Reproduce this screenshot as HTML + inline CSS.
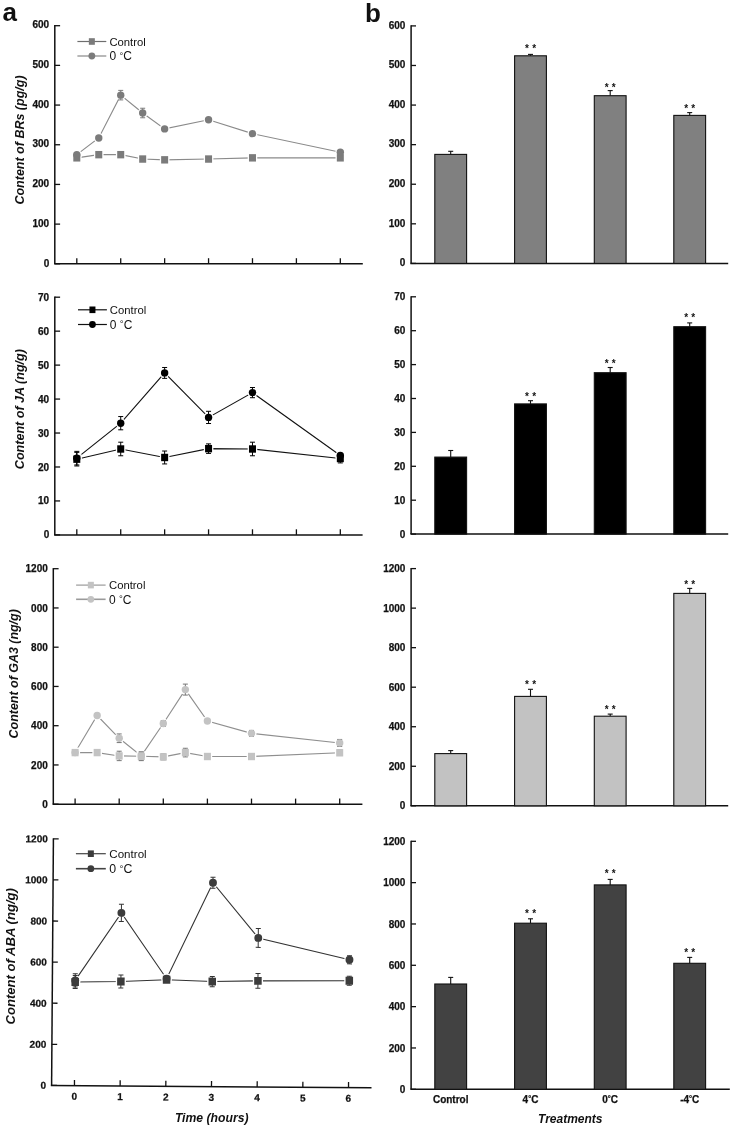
<!DOCTYPE html><html><head><meta charset="utf-8"><title>Figure</title>
<style>html,body{margin:0;padding:0;background:#fff;width:734px;height:1130px;overflow:hidden;}svg{display:block;will-change:transform;}text{font-family:"Liberation Sans",sans-serif;fill:#111;}.tl{stroke:#111;stroke-width:0.25px;}</style></head><body>
<svg width="734" height="1130" viewBox="0 0 734 1130">
<rect width="734" height="1130" fill="#fff"/>
<text x="2.5" y="20.6" font-size="26" font-weight="bold">a</text>
<text x="365" y="22.3" font-size="26" font-weight="bold">b</text>
<line x1="54.8" y1="25.1" x2="54.8" y2="263.8" stroke="#111" stroke-width="1.5"/>
<line x1="54.8" y1="263.8" x2="60.1" y2="263.8" stroke="#111" stroke-width="1.3"/>
<text x="49.2" y="266.5" font-size="10" font-weight="bold" text-anchor="end" class="tl">0</text>
<line x1="54.8" y1="224.12" x2="60.1" y2="224.12" stroke="#111" stroke-width="1.3"/>
<text x="49.2" y="226.82" font-size="10" font-weight="bold" text-anchor="end" class="tl">100</text>
<line x1="54.8" y1="184.43" x2="60.1" y2="184.43" stroke="#111" stroke-width="1.3"/>
<text x="49.2" y="187.13" font-size="10" font-weight="bold" text-anchor="end" class="tl">200</text>
<line x1="54.8" y1="144.75" x2="60.1" y2="144.75" stroke="#111" stroke-width="1.3"/>
<text x="49.2" y="147.45" font-size="10" font-weight="bold" text-anchor="end" class="tl">300</text>
<line x1="54.8" y1="105.07" x2="60.1" y2="105.07" stroke="#111" stroke-width="1.3"/>
<text x="49.2" y="107.77" font-size="10" font-weight="bold" text-anchor="end" class="tl">400</text>
<line x1="54.8" y1="65.38" x2="60.1" y2="65.38" stroke="#111" stroke-width="1.3"/>
<text x="49.2" y="68.08" font-size="10" font-weight="bold" text-anchor="end" class="tl">500</text>
<line x1="54.8" y1="25.7" x2="60.1" y2="25.7" stroke="#111" stroke-width="1.3"/>
<text x="49.2" y="28.4" font-size="10" font-weight="bold" text-anchor="end" class="tl">600</text>
<line x1="54.05" y1="263.8" x2="362.8" y2="263.8" stroke="#111" stroke-width="1.5"/>
<line x1="76.8" y1="263.8" x2="76.8" y2="258.2" stroke="#111" stroke-width="1.3"/>
<line x1="120.72" y1="263.8" x2="120.72" y2="258.2" stroke="#111" stroke-width="1.3"/>
<line x1="164.64" y1="263.8" x2="164.64" y2="258.2" stroke="#111" stroke-width="1.3"/>
<line x1="208.56" y1="263.8" x2="208.56" y2="258.2" stroke="#111" stroke-width="1.3"/>
<line x1="252.48" y1="263.8" x2="252.48" y2="258.2" stroke="#111" stroke-width="1.3"/>
<line x1="296.4" y1="263.8" x2="296.4" y2="258.2" stroke="#111" stroke-width="1.3"/>
<line x1="340.32" y1="263.8" x2="340.32" y2="258.2" stroke="#111" stroke-width="1.3"/>
<text transform="translate(24.2,140) rotate(-90)" x="0" y="0" font-size="12.5" font-weight="bold" font-style="italic" text-anchor="middle">Content of BRs (pg/g)</text>
<line x1="77.4" y1="41.5" x2="106.3" y2="41.5" stroke="#6e6e6e" stroke-width="1.2"/>
<rect x="88.85" y="38.2" width="6" height="6.6" fill="#7b7b7b"/>
<line x1="77.4" y1="56" x2="106.3" y2="56" stroke="#a6a6a6" stroke-width="1.6"/>
<circle cx="91.85" cy="56" r="3.4" fill="#7b7b7b"/>
<text x="109.4" y="45.68" font-size="11.3">Control</text>
<text x="109.4" y="60.25" font-size="11.98">0 <tspan font-size="9.58" dy="-1.3">&#176;</tspan><tspan dy="1.3">C</tspan></text>
<path d="M76.8,157.85 L98.76,154.67 L120.72,154.67 L142.68,159.04 L164.64,159.83 L208.56,159.04 L252.48,157.85 L340.32,157.85" fill="none" stroke="#8a8a8a" stroke-width="1.1"/>
<path d="M76.8,154.67 L98.76,138 L120.72,95.15 L142.68,113 L164.64,128.88 L208.56,119.75 L252.48,133.64 L340.32,152.29" fill="none" stroke="#8a8a8a" stroke-width="1.1"/>
<rect x="72" y="152.85" width="9.6" height="10" fill="#fff"/>
<rect x="93.96" y="149.67" width="9.6" height="10" fill="#fff"/>
<rect x="115.92" y="149.67" width="9.6" height="10" fill="#fff"/>
<rect x="137.88" y="154.04" width="9.6" height="10" fill="#fff"/>
<rect x="159.84" y="154.83" width="9.6" height="10" fill="#fff"/>
<rect x="203.76" y="154.04" width="9.6" height="10" fill="#fff"/>
<rect x="247.68" y="152.85" width="9.6" height="10" fill="#fff"/>
<rect x="335.52" y="152.85" width="9.6" height="10" fill="#fff"/>
<circle cx="76.8" cy="154.67" r="5" fill="#fff"/>
<circle cx="98.76" cy="138" r="5" fill="#fff"/>
<circle cx="120.72" cy="95.15" r="5" fill="#fff"/>
<circle cx="142.68" cy="113" r="5" fill="#fff"/>
<circle cx="164.64" cy="128.88" r="5" fill="#fff"/>
<circle cx="208.56" cy="119.75" r="5" fill="#fff"/>
<circle cx="252.48" cy="133.64" r="5" fill="#fff"/>
<circle cx="340.32" cy="152.29" r="5" fill="#fff"/>
<line x1="120.72" y1="90.38" x2="120.72" y2="99.91" stroke="#7b7b7b" stroke-width="1"/>
<line x1="118.22" y1="90.38" x2="123.22" y2="90.38" stroke="#7b7b7b" stroke-width="1"/>
<line x1="118.22" y1="99.91" x2="123.22" y2="99.91" stroke="#7b7b7b" stroke-width="1"/>
<line x1="142.68" y1="108.24" x2="142.68" y2="117.77" stroke="#7b7b7b" stroke-width="1"/>
<line x1="140.18" y1="108.24" x2="145.18" y2="108.24" stroke="#7b7b7b" stroke-width="1"/>
<line x1="140.18" y1="117.77" x2="145.18" y2="117.77" stroke="#7b7b7b" stroke-width="1"/>
<rect x="73.3" y="154.15" width="7" height="7.4" fill="#7b7b7b"/>
<rect x="95.26" y="150.97" width="7" height="7.4" fill="#7b7b7b"/>
<rect x="117.22" y="150.97" width="7" height="7.4" fill="#7b7b7b"/>
<rect x="139.18" y="155.34" width="7" height="7.4" fill="#7b7b7b"/>
<rect x="161.14" y="156.13" width="7" height="7.4" fill="#7b7b7b"/>
<rect x="205.06" y="155.34" width="7" height="7.4" fill="#7b7b7b"/>
<rect x="248.98" y="154.15" width="7" height="7.4" fill="#7b7b7b"/>
<rect x="336.82" y="154.15" width="7" height="7.4" fill="#7b7b7b"/>
<circle cx="76.8" cy="154.67" r="3.7" fill="#7b7b7b"/>
<circle cx="98.76" cy="138" r="3.7" fill="#7b7b7b"/>
<circle cx="120.72" cy="95.15" r="3.7" fill="#7b7b7b"/>
<circle cx="142.68" cy="113" r="3.7" fill="#7b7b7b"/>
<circle cx="164.64" cy="128.88" r="3.7" fill="#7b7b7b"/>
<circle cx="208.56" cy="119.75" r="3.7" fill="#7b7b7b"/>
<circle cx="252.48" cy="133.64" r="3.7" fill="#7b7b7b"/>
<circle cx="340.32" cy="152.29" r="3.7" fill="#7b7b7b"/>
<line x1="54.8" y1="296.6" x2="54.8" y2="534.9" stroke="#111" stroke-width="1.5"/>
<line x1="54.8" y1="534.9" x2="60.1" y2="534.9" stroke="#111" stroke-width="1.3"/>
<text x="49.2" y="538.45" font-size="10" font-weight="bold" text-anchor="end" class="tl">0</text>
<line x1="54.8" y1="500.94" x2="60.1" y2="500.94" stroke="#111" stroke-width="1.3"/>
<text x="49.2" y="504.49" font-size="10" font-weight="bold" text-anchor="end" class="tl">10</text>
<line x1="54.8" y1="466.99" x2="60.1" y2="466.99" stroke="#111" stroke-width="1.3"/>
<text x="49.2" y="470.54" font-size="10" font-weight="bold" text-anchor="end" class="tl">20</text>
<line x1="54.8" y1="433.03" x2="60.1" y2="433.03" stroke="#111" stroke-width="1.3"/>
<text x="49.2" y="436.58" font-size="10" font-weight="bold" text-anchor="end" class="tl">30</text>
<line x1="54.8" y1="399.07" x2="60.1" y2="399.07" stroke="#111" stroke-width="1.3"/>
<text x="49.2" y="402.62" font-size="10" font-weight="bold" text-anchor="end" class="tl">40</text>
<line x1="54.8" y1="365.11" x2="60.1" y2="365.11" stroke="#111" stroke-width="1.3"/>
<text x="49.2" y="368.66" font-size="10" font-weight="bold" text-anchor="end" class="tl">50</text>
<line x1="54.8" y1="331.16" x2="60.1" y2="331.16" stroke="#111" stroke-width="1.3"/>
<text x="49.2" y="334.71" font-size="10" font-weight="bold" text-anchor="end" class="tl">60</text>
<line x1="54.8" y1="297.2" x2="60.1" y2="297.2" stroke="#111" stroke-width="1.3"/>
<text x="49.2" y="300.75" font-size="10" font-weight="bold" text-anchor="end" class="tl">70</text>
<line x1="54.05" y1="534.9" x2="362.6" y2="534.9" stroke="#111" stroke-width="1.5"/>
<line x1="76.8" y1="534.9" x2="76.8" y2="529.3" stroke="#111" stroke-width="1.3"/>
<line x1="120.72" y1="534.9" x2="120.72" y2="529.3" stroke="#111" stroke-width="1.3"/>
<line x1="164.64" y1="534.9" x2="164.64" y2="529.3" stroke="#111" stroke-width="1.3"/>
<line x1="208.56" y1="534.9" x2="208.56" y2="529.3" stroke="#111" stroke-width="1.3"/>
<line x1="252.48" y1="534.9" x2="252.48" y2="529.3" stroke="#111" stroke-width="1.3"/>
<line x1="296.4" y1="534.9" x2="296.4" y2="529.3" stroke="#111" stroke-width="1.3"/>
<line x1="340.32" y1="534.9" x2="340.32" y2="529.3" stroke="#111" stroke-width="1.3"/>
<text transform="translate(23.8,409.1) rotate(-90)" x="0" y="0" font-size="12.55" font-weight="bold" font-style="italic" text-anchor="middle">Content of JA (ng/g)</text>
<line x1="78" y1="309.8" x2="106.9" y2="309.8" stroke="#111" stroke-width="1.2"/>
<rect x="89.45" y="306.5" width="6" height="6.6" fill="#000"/>
<line x1="78" y1="324.5" x2="106.9" y2="324.5" stroke="#111" stroke-width="1.2"/>
<circle cx="92.45" cy="324.5" r="3.4" fill="#000"/>
<text x="109.8" y="313.98" font-size="11.3">Control</text>
<text x="109.8" y="328.75" font-size="11.98">0 <tspan font-size="9.58" dy="-1.3">&#176;</tspan><tspan dy="1.3">C</tspan></text>
<path d="M76.8,459.18 L120.72,448.99 L164.64,457.48 L208.56,448.65 L252.48,448.99 L340.32,458.5" fill="none" stroke="#111" stroke-width="1.1"/>
<path d="M76.8,458.16 L120.72,423.18 L164.64,372.92 L208.56,417.41 L252.48,392.62 L340.32,455.44" fill="none" stroke="#111" stroke-width="1.1"/>
<rect x="72" y="454.18" width="9.6" height="10" fill="#fff"/>
<rect x="115.92" y="443.99" width="9.6" height="10" fill="#fff"/>
<rect x="159.84" y="452.48" width="9.6" height="10" fill="#fff"/>
<rect x="203.76" y="443.65" width="9.6" height="10" fill="#fff"/>
<rect x="247.68" y="443.99" width="9.6" height="10" fill="#fff"/>
<rect x="335.52" y="453.5" width="9.6" height="10" fill="#fff"/>
<circle cx="76.8" cy="458.16" r="5" fill="#fff"/>
<circle cx="120.72" cy="423.18" r="5" fill="#fff"/>
<circle cx="164.64" cy="372.92" r="5" fill="#fff"/>
<circle cx="208.56" cy="417.41" r="5" fill="#fff"/>
<circle cx="252.48" cy="392.62" r="5" fill="#fff"/>
<circle cx="340.32" cy="455.44" r="5" fill="#fff"/>
<line x1="76.8" y1="452.38" x2="76.8" y2="465.97" stroke="#000" stroke-width="1"/>
<line x1="74.3" y1="452.38" x2="79.3" y2="452.38" stroke="#000" stroke-width="1"/>
<line x1="74.3" y1="465.97" x2="79.3" y2="465.97" stroke="#000" stroke-width="1"/>
<line x1="120.72" y1="442.2" x2="120.72" y2="455.78" stroke="#000" stroke-width="1"/>
<line x1="118.22" y1="442.2" x2="123.22" y2="442.2" stroke="#000" stroke-width="1"/>
<line x1="118.22" y1="455.78" x2="123.22" y2="455.78" stroke="#000" stroke-width="1"/>
<line x1="164.64" y1="451.03" x2="164.64" y2="463.93" stroke="#000" stroke-width="1"/>
<line x1="162.14" y1="451.03" x2="167.14" y2="451.03" stroke="#000" stroke-width="1"/>
<line x1="162.14" y1="463.93" x2="167.14" y2="463.93" stroke="#000" stroke-width="1"/>
<line x1="208.56" y1="443.89" x2="208.56" y2="453.4" stroke="#000" stroke-width="1"/>
<line x1="206.06" y1="443.89" x2="211.06" y2="443.89" stroke="#000" stroke-width="1"/>
<line x1="206.06" y1="453.4" x2="211.06" y2="453.4" stroke="#000" stroke-width="1"/>
<line x1="252.48" y1="442.2" x2="252.48" y2="455.78" stroke="#000" stroke-width="1"/>
<line x1="249.98" y1="442.2" x2="254.98" y2="442.2" stroke="#000" stroke-width="1"/>
<line x1="249.98" y1="455.78" x2="254.98" y2="455.78" stroke="#000" stroke-width="1"/>
<line x1="340.32" y1="454.08" x2="340.32" y2="462.91" stroke="#000" stroke-width="1"/>
<line x1="337.82" y1="454.08" x2="342.82" y2="454.08" stroke="#000" stroke-width="1"/>
<line x1="337.82" y1="462.91" x2="342.82" y2="462.91" stroke="#000" stroke-width="1"/>
<line x1="76.8" y1="451.37" x2="76.8" y2="464.95" stroke="#000" stroke-width="1"/>
<line x1="74.3" y1="451.37" x2="79.3" y2="451.37" stroke="#000" stroke-width="1"/>
<line x1="74.3" y1="464.95" x2="79.3" y2="464.95" stroke="#000" stroke-width="1"/>
<line x1="120.72" y1="416.56" x2="120.72" y2="429.8" stroke="#000" stroke-width="1"/>
<line x1="118.22" y1="416.56" x2="123.22" y2="416.56" stroke="#000" stroke-width="1"/>
<line x1="118.22" y1="429.8" x2="123.22" y2="429.8" stroke="#000" stroke-width="1"/>
<line x1="164.64" y1="367.49" x2="164.64" y2="378.36" stroke="#000" stroke-width="1"/>
<line x1="162.14" y1="367.49" x2="167.14" y2="367.49" stroke="#000" stroke-width="1"/>
<line x1="162.14" y1="378.36" x2="167.14" y2="378.36" stroke="#000" stroke-width="1"/>
<line x1="208.56" y1="411.3" x2="208.56" y2="423.52" stroke="#000" stroke-width="1"/>
<line x1="206.06" y1="411.3" x2="211.06" y2="411.3" stroke="#000" stroke-width="1"/>
<line x1="206.06" y1="423.52" x2="211.06" y2="423.52" stroke="#000" stroke-width="1"/>
<line x1="252.48" y1="387.53" x2="252.48" y2="397.71" stroke="#000" stroke-width="1"/>
<line x1="249.98" y1="387.53" x2="254.98" y2="387.53" stroke="#000" stroke-width="1"/>
<line x1="249.98" y1="397.71" x2="254.98" y2="397.71" stroke="#000" stroke-width="1"/>
<line x1="340.32" y1="453.4" x2="340.32" y2="457.48" stroke="#000" stroke-width="1"/>
<line x1="337.82" y1="453.4" x2="342.82" y2="453.4" stroke="#000" stroke-width="1"/>
<line x1="337.82" y1="457.48" x2="342.82" y2="457.48" stroke="#000" stroke-width="1"/>
<rect x="73.3" y="455.48" width="7" height="7.4" fill="#000"/>
<rect x="117.22" y="445.29" width="7" height="7.4" fill="#000"/>
<rect x="161.14" y="453.78" width="7" height="7.4" fill="#000"/>
<rect x="205.06" y="444.95" width="7" height="7.4" fill="#000"/>
<rect x="248.98" y="445.29" width="7" height="7.4" fill="#000"/>
<rect x="336.82" y="454.8" width="7" height="7.4" fill="#000"/>
<circle cx="76.8" cy="458.16" r="3.7" fill="#000"/>
<circle cx="120.72" cy="423.18" r="3.7" fill="#000"/>
<circle cx="164.64" cy="372.92" r="3.7" fill="#000"/>
<circle cx="208.56" cy="417.41" r="3.7" fill="#000"/>
<circle cx="252.48" cy="392.62" r="3.7" fill="#000"/>
<circle cx="340.32" cy="455.44" r="3.7" fill="#000"/>
<line x1="53.3" y1="568.1" x2="53.3" y2="804.2" stroke="#111" stroke-width="1.5"/>
<line x1="53.3" y1="804.2" x2="58.6" y2="804.2" stroke="#111" stroke-width="1.3"/>
<text x="47.8" y="807.75" font-size="10" font-weight="bold" text-anchor="end" class="tl">0</text>
<line x1="53.3" y1="764.95" x2="58.6" y2="764.95" stroke="#111" stroke-width="1.3"/>
<text x="47.8" y="768.5" font-size="10" font-weight="bold" text-anchor="end" class="tl">200</text>
<line x1="53.3" y1="725.7" x2="58.6" y2="725.7" stroke="#111" stroke-width="1.3"/>
<text x="47.8" y="729.25" font-size="10" font-weight="bold" text-anchor="end" class="tl">400</text>
<line x1="53.3" y1="686.45" x2="58.6" y2="686.45" stroke="#111" stroke-width="1.3"/>
<text x="47.8" y="690" font-size="10" font-weight="bold" text-anchor="end" class="tl">600</text>
<line x1="53.3" y1="647.2" x2="58.6" y2="647.2" stroke="#111" stroke-width="1.3"/>
<text x="47.8" y="650.75" font-size="10" font-weight="bold" text-anchor="end" class="tl">800</text>
<line x1="53.3" y1="607.95" x2="58.6" y2="607.95" stroke="#111" stroke-width="1.3"/>
<text x="47.8" y="611.5" font-size="10" font-weight="bold" text-anchor="end" class="tl">000</text>
<line x1="53.3" y1="568.7" x2="58.6" y2="568.7" stroke="#111" stroke-width="1.3"/>
<text x="47.8" y="572.25" font-size="10" font-weight="bold" text-anchor="end" class="tl">1200</text>
<line x1="52.55" y1="804.2" x2="362.4" y2="804.2" stroke="#111" stroke-width="1.5"/>
<line x1="75.1" y1="804.2" x2="75.1" y2="798.6" stroke="#111" stroke-width="1.3"/>
<line x1="119.2" y1="804.2" x2="119.2" y2="798.6" stroke="#111" stroke-width="1.3"/>
<line x1="163.3" y1="804.2" x2="163.3" y2="798.6" stroke="#111" stroke-width="1.3"/>
<line x1="207.4" y1="804.2" x2="207.4" y2="798.6" stroke="#111" stroke-width="1.3"/>
<line x1="251.5" y1="804.2" x2="251.5" y2="798.6" stroke="#111" stroke-width="1.3"/>
<line x1="295.6" y1="804.2" x2="295.6" y2="798.6" stroke="#111" stroke-width="1.3"/>
<line x1="339.7" y1="804.2" x2="339.7" y2="798.6" stroke="#111" stroke-width="1.3"/>
<text transform="translate(18.4,673.8) rotate(-90)" x="0" y="0" font-size="12.45" font-weight="bold" font-style="italic" text-anchor="middle">Content of GA3 (ng/g)</text>
<line x1="76.1" y1="585.1" x2="105.6" y2="585.1" stroke="#9a9a9a" stroke-width="1.2"/>
<rect x="87.85" y="581.8" width="6" height="6.6" fill="#c3c3c3"/>
<line x1="76.1" y1="599.3" x2="105.6" y2="599.3" stroke="#9a9a9a" stroke-width="1.6"/>
<circle cx="90.85" cy="599.3" r="3.4" fill="#c3c3c3"/>
<text x="109" y="589.28" font-size="11.3">Control</text>
<text x="109" y="603.55" font-size="11.98">0 <tspan font-size="9.58" dy="-1.3">&#176;</tspan><tspan dy="1.3">C</tspan></text>
<path d="M75.1,752.59 L97.15,752.59 L119.2,755.92 L141.25,756.32 L163.3,756.9 L185.35,752.59 L207.4,756.51 L251.5,756.51 L339.7,752.78" fill="none" stroke="#8f8f8f" stroke-width="1.1"/>
<path d="M75.1,752.59 L97.15,715.5 L119.2,738.26 L141.25,755.92 L163.3,723.54 L185.35,689.59 L207.4,720.99 L251.5,733.35 L339.7,742.97" fill="none" stroke="#8f8f8f" stroke-width="1.1"/>
<rect x="70.3" y="747.59" width="9.6" height="10" fill="#fff"/>
<rect x="92.35" y="747.59" width="9.6" height="10" fill="#fff"/>
<rect x="114.4" y="750.92" width="9.6" height="10" fill="#fff"/>
<rect x="136.45" y="751.32" width="9.6" height="10" fill="#fff"/>
<rect x="158.5" y="751.9" width="9.6" height="10" fill="#fff"/>
<rect x="180.55" y="747.59" width="9.6" height="10" fill="#fff"/>
<rect x="202.6" y="751.51" width="9.6" height="10" fill="#fff"/>
<rect x="246.7" y="751.51" width="9.6" height="10" fill="#fff"/>
<rect x="334.9" y="747.78" width="9.6" height="10" fill="#fff"/>
<circle cx="75.1" cy="752.59" r="5" fill="#fff"/>
<circle cx="97.15" cy="715.5" r="5" fill="#fff"/>
<circle cx="119.2" cy="738.26" r="5" fill="#fff"/>
<circle cx="141.25" cy="755.92" r="5" fill="#fff"/>
<circle cx="163.3" cy="723.54" r="5" fill="#fff"/>
<circle cx="185.35" cy="689.59" r="5" fill="#fff"/>
<circle cx="207.4" cy="720.99" r="5" fill="#fff"/>
<circle cx="251.5" cy="733.35" r="5" fill="#fff"/>
<circle cx="339.7" cy="742.97" r="5" fill="#fff"/>
<line x1="75.1" y1="750.23" x2="75.1" y2="754.94" stroke="#777" stroke-width="1"/>
<line x1="72.6" y1="750.23" x2="77.6" y2="750.23" stroke="#777" stroke-width="1"/>
<line x1="72.6" y1="754.94" x2="77.6" y2="754.94" stroke="#777" stroke-width="1"/>
<line x1="97.15" y1="751.02" x2="97.15" y2="754.16" stroke="#777" stroke-width="1"/>
<line x1="94.65" y1="751.02" x2="99.65" y2="751.02" stroke="#777" stroke-width="1"/>
<line x1="94.65" y1="754.16" x2="99.65" y2="754.16" stroke="#777" stroke-width="1"/>
<line x1="119.2" y1="751.21" x2="119.2" y2="760.63" stroke="#777" stroke-width="1"/>
<line x1="116.7" y1="751.21" x2="121.7" y2="751.21" stroke="#777" stroke-width="1"/>
<line x1="116.7" y1="760.63" x2="121.7" y2="760.63" stroke="#777" stroke-width="1"/>
<line x1="141.25" y1="752" x2="141.25" y2="760.63" stroke="#777" stroke-width="1"/>
<line x1="138.75" y1="752" x2="143.75" y2="752" stroke="#777" stroke-width="1"/>
<line x1="138.75" y1="760.63" x2="143.75" y2="760.63" stroke="#777" stroke-width="1"/>
<line x1="163.3" y1="753.96" x2="163.3" y2="759.85" stroke="#777" stroke-width="1"/>
<line x1="160.8" y1="753.96" x2="165.8" y2="753.96" stroke="#777" stroke-width="1"/>
<line x1="160.8" y1="759.85" x2="165.8" y2="759.85" stroke="#777" stroke-width="1"/>
<line x1="185.35" y1="748.27" x2="185.35" y2="756.9" stroke="#777" stroke-width="1"/>
<line x1="182.85" y1="748.27" x2="187.85" y2="748.27" stroke="#777" stroke-width="1"/>
<line x1="182.85" y1="756.9" x2="187.85" y2="756.9" stroke="#777" stroke-width="1"/>
<line x1="207.4" y1="754.55" x2="207.4" y2="758.47" stroke="#777" stroke-width="1"/>
<line x1="204.9" y1="754.55" x2="209.9" y2="754.55" stroke="#777" stroke-width="1"/>
<line x1="204.9" y1="758.47" x2="209.9" y2="758.47" stroke="#777" stroke-width="1"/>
<line x1="251.5" y1="753.76" x2="251.5" y2="759.26" stroke="#777" stroke-width="1"/>
<line x1="249" y1="753.76" x2="254" y2="753.76" stroke="#777" stroke-width="1"/>
<line x1="249" y1="759.26" x2="254" y2="759.26" stroke="#777" stroke-width="1"/>
<line x1="339.7" y1="750.04" x2="339.7" y2="755.53" stroke="#777" stroke-width="1"/>
<line x1="337.2" y1="750.04" x2="342.2" y2="750.04" stroke="#777" stroke-width="1"/>
<line x1="337.2" y1="755.53" x2="342.2" y2="755.53" stroke="#777" stroke-width="1"/>
<line x1="75.1" y1="750.62" x2="75.1" y2="754.55" stroke="#777" stroke-width="1"/>
<line x1="72.6" y1="750.62" x2="77.6" y2="750.62" stroke="#777" stroke-width="1"/>
<line x1="72.6" y1="754.55" x2="77.6" y2="754.55" stroke="#777" stroke-width="1"/>
<line x1="97.15" y1="713.92" x2="97.15" y2="717.07" stroke="#777" stroke-width="1"/>
<line x1="94.65" y1="713.92" x2="99.65" y2="713.92" stroke="#777" stroke-width="1"/>
<line x1="94.65" y1="717.07" x2="99.65" y2="717.07" stroke="#777" stroke-width="1"/>
<line x1="119.2" y1="733.94" x2="119.2" y2="742.58" stroke="#777" stroke-width="1"/>
<line x1="116.7" y1="733.94" x2="121.7" y2="733.94" stroke="#777" stroke-width="1"/>
<line x1="116.7" y1="742.58" x2="121.7" y2="742.58" stroke="#777" stroke-width="1"/>
<line x1="141.25" y1="752" x2="141.25" y2="759.85" stroke="#777" stroke-width="1"/>
<line x1="138.75" y1="752" x2="143.75" y2="752" stroke="#777" stroke-width="1"/>
<line x1="138.75" y1="759.85" x2="143.75" y2="759.85" stroke="#777" stroke-width="1"/>
<line x1="163.3" y1="720.6" x2="163.3" y2="726.49" stroke="#777" stroke-width="1"/>
<line x1="160.8" y1="720.6" x2="165.8" y2="720.6" stroke="#777" stroke-width="1"/>
<line x1="160.8" y1="726.49" x2="165.8" y2="726.49" stroke="#777" stroke-width="1"/>
<line x1="185.35" y1="684.1" x2="185.35" y2="695.09" stroke="#777" stroke-width="1"/>
<line x1="182.85" y1="684.1" x2="187.85" y2="684.1" stroke="#777" stroke-width="1"/>
<line x1="182.85" y1="695.09" x2="187.85" y2="695.09" stroke="#777" stroke-width="1"/>
<line x1="207.4" y1="719.03" x2="207.4" y2="722.95" stroke="#777" stroke-width="1"/>
<line x1="204.9" y1="719.03" x2="209.9" y2="719.03" stroke="#777" stroke-width="1"/>
<line x1="204.9" y1="722.95" x2="209.9" y2="722.95" stroke="#777" stroke-width="1"/>
<line x1="251.5" y1="730.41" x2="251.5" y2="736.3" stroke="#777" stroke-width="1"/>
<line x1="249" y1="730.41" x2="254" y2="730.41" stroke="#777" stroke-width="1"/>
<line x1="249" y1="736.3" x2="254" y2="736.3" stroke="#777" stroke-width="1"/>
<line x1="339.7" y1="739.44" x2="339.7" y2="746.5" stroke="#777" stroke-width="1"/>
<line x1="337.2" y1="739.44" x2="342.2" y2="739.44" stroke="#777" stroke-width="1"/>
<line x1="337.2" y1="746.5" x2="342.2" y2="746.5" stroke="#777" stroke-width="1"/>
<rect x="71.6" y="748.89" width="7" height="7.4" fill="#c3c3c3"/>
<rect x="93.65" y="748.89" width="7" height="7.4" fill="#c3c3c3"/>
<rect x="115.7" y="752.22" width="7" height="7.4" fill="#c3c3c3"/>
<rect x="137.75" y="752.62" width="7" height="7.4" fill="#c3c3c3"/>
<rect x="159.8" y="753.2" width="7" height="7.4" fill="#c3c3c3"/>
<rect x="181.85" y="748.89" width="7" height="7.4" fill="#c3c3c3"/>
<rect x="203.9" y="752.81" width="7" height="7.4" fill="#c3c3c3"/>
<rect x="248" y="752.81" width="7" height="7.4" fill="#c3c3c3"/>
<rect x="336.2" y="749.08" width="7" height="7.4" fill="#c3c3c3"/>
<circle cx="75.1" cy="752.59" r="3.7" fill="#c3c3c3"/>
<circle cx="97.15" cy="715.5" r="3.7" fill="#c3c3c3"/>
<circle cx="119.2" cy="738.26" r="3.7" fill="#c3c3c3"/>
<circle cx="141.25" cy="755.92" r="3.7" fill="#c3c3c3"/>
<circle cx="163.3" cy="723.54" r="3.7" fill="#c3c3c3"/>
<circle cx="185.35" cy="689.59" r="3.7" fill="#c3c3c3"/>
<circle cx="207.4" cy="720.99" r="3.7" fill="#c3c3c3"/>
<circle cx="251.5" cy="733.35" r="3.7" fill="#c3c3c3"/>
<circle cx="339.7" cy="742.97" r="3.7" fill="#c3c3c3"/>
<g transform="rotate(0.42 51.6 1085.4)">
<line x1="51.6" y1="838.2" x2="51.6" y2="1085.4" stroke="#111" stroke-width="1.5"/>
<line x1="51.6" y1="1085.4" x2="56.9" y2="1085.4" stroke="#111" stroke-width="1.3"/>
<text x="46" y="1088.95" font-size="10" font-weight="bold" text-anchor="end" class="tl">0</text>
<line x1="51.6" y1="1044.3" x2="56.9" y2="1044.3" stroke="#111" stroke-width="1.3"/>
<text x="46" y="1047.85" font-size="10" font-weight="bold" text-anchor="end" class="tl">200</text>
<line x1="51.6" y1="1003.2" x2="56.9" y2="1003.2" stroke="#111" stroke-width="1.3"/>
<text x="46" y="1006.75" font-size="10" font-weight="bold" text-anchor="end" class="tl">400</text>
<line x1="51.6" y1="962.1" x2="56.9" y2="962.1" stroke="#111" stroke-width="1.3"/>
<text x="46" y="965.65" font-size="10" font-weight="bold" text-anchor="end" class="tl">600</text>
<line x1="51.6" y1="921" x2="56.9" y2="921" stroke="#111" stroke-width="1.3"/>
<text x="46" y="924.55" font-size="10" font-weight="bold" text-anchor="end" class="tl">800</text>
<line x1="51.6" y1="879.9" x2="56.9" y2="879.9" stroke="#111" stroke-width="1.3"/>
<text x="46" y="883.45" font-size="10" font-weight="bold" text-anchor="end" class="tl">1000</text>
<line x1="51.6" y1="838.8" x2="56.9" y2="838.8" stroke="#111" stroke-width="1.3"/>
<text x="46" y="842.35" font-size="10" font-weight="bold" text-anchor="end" class="tl">1200</text>
<line x1="50.85" y1="1085.4" x2="371.5" y2="1085.4" stroke="#111" stroke-width="1.5"/>
<line x1="74.45" y1="1085.4" x2="74.45" y2="1079.8" stroke="#111" stroke-width="1.3"/>
<line x1="120.13" y1="1085.4" x2="120.13" y2="1079.8" stroke="#111" stroke-width="1.3"/>
<line x1="165.81" y1="1085.4" x2="165.81" y2="1079.8" stroke="#111" stroke-width="1.3"/>
<line x1="211.49" y1="1085.4" x2="211.49" y2="1079.8" stroke="#111" stroke-width="1.3"/>
<line x1="257.17" y1="1085.4" x2="257.17" y2="1079.8" stroke="#111" stroke-width="1.3"/>
<line x1="302.85" y1="1085.4" x2="302.85" y2="1079.8" stroke="#111" stroke-width="1.3"/>
<line x1="348.53" y1="1085.4" x2="348.53" y2="1079.8" stroke="#111" stroke-width="1.3"/>
<text x="74.45" y="1099.6" font-size="10" font-weight="bold" text-anchor="middle" class="tl">0</text>
<text x="120.13" y="1099.6" font-size="10" font-weight="bold" text-anchor="middle" class="tl">1</text>
<text x="165.81" y="1099.6" font-size="10" font-weight="bold" text-anchor="middle" class="tl">2</text>
<text x="211.49" y="1099.6" font-size="10" font-weight="bold" text-anchor="middle" class="tl">3</text>
<text x="257.17" y="1099.6" font-size="10" font-weight="bold" text-anchor="middle" class="tl">4</text>
<text x="302.85" y="1099.6" font-size="10" font-weight="bold" text-anchor="middle" class="tl">5</text>
<text x="348.53" y="1099.6" font-size="10" font-weight="bold" text-anchor="middle" class="tl">6</text>
</g>
<text transform="translate(15.3,956.3) rotate(-90)" x="0" y="0" font-size="13.1" font-weight="bold" font-style="italic" text-anchor="middle">Content of ABA (ng/g)</text>
<text x="211.7" y="1121.8" font-size="12.2" font-weight="bold" font-style="italic" text-anchor="middle">Time (hours)</text>
<line x1="75.9" y1="853.7" x2="105.8" y2="853.7" stroke="#444" stroke-width="1.2"/>
<rect x="87.85" y="850.4" width="6" height="6.6" fill="#3c3c3c"/>
<line x1="75.9" y1="868.7" x2="105.8" y2="868.7" stroke="#444" stroke-width="1.6"/>
<circle cx="90.85" cy="868.7" r="3.4" fill="#3c3c3c"/>
<text x="109.3" y="857.99" font-size="11.6">Control</text>
<text x="109.3" y="873.07" font-size="12.3">0 <tspan font-size="9.84" dy="-1.3">&#176;</tspan><tspan dy="1.3">C</tspan></text>
<g transform="rotate(0.42 51.6 1085.4)">
<path d="M74.45,981.83 L120.13,981.01 L165.81,978.95 L211.49,980.39 L257.17,979.36 L348.53,978.54" fill="none" stroke="#333" stroke-width="1.1"/>
<path d="M74.45,980.18 L120.13,912.37 L165.81,977.92 L211.49,881.54 L257.17,936.41 L348.53,957.58" fill="none" stroke="#333" stroke-width="1.1"/>
<rect x="69.4" y="976.58" width="10.1" height="10.5" fill="#fff"/>
<rect x="115.08" y="975.76" width="10.1" height="10.5" fill="#fff"/>
<rect x="160.76" y="973.7" width="10.1" height="10.5" fill="#fff"/>
<rect x="206.44" y="975.14" width="10.1" height="10.5" fill="#fff"/>
<rect x="252.12" y="974.11" width="10.1" height="10.5" fill="#fff"/>
<rect x="343.48" y="973.29" width="10.1" height="10.5" fill="#fff"/>
<circle cx="74.45" cy="980.18" r="5.25" fill="#fff"/>
<circle cx="120.13" cy="912.37" r="5.25" fill="#fff"/>
<circle cx="165.81" cy="977.92" r="5.25" fill="#fff"/>
<circle cx="211.49" cy="881.54" r="5.25" fill="#fff"/>
<circle cx="257.17" cy="936.41" r="5.25" fill="#fff"/>
<circle cx="348.53" cy="957.58" r="5.25" fill="#fff"/>
<line x1="74.45" y1="975.25" x2="74.45" y2="988.4" stroke="#333" stroke-width="1"/>
<line x1="71.95" y1="975.25" x2="76.95" y2="975.25" stroke="#333" stroke-width="1"/>
<line x1="71.95" y1="988.4" x2="76.95" y2="988.4" stroke="#333" stroke-width="1"/>
<line x1="120.13" y1="974.43" x2="120.13" y2="987.58" stroke="#333" stroke-width="1"/>
<line x1="117.63" y1="974.43" x2="122.63" y2="974.43" stroke="#333" stroke-width="1"/>
<line x1="117.63" y1="987.58" x2="122.63" y2="987.58" stroke="#333" stroke-width="1"/>
<line x1="165.81" y1="976.49" x2="165.81" y2="981.42" stroke="#333" stroke-width="1"/>
<line x1="163.31" y1="976.49" x2="168.31" y2="976.49" stroke="#333" stroke-width="1"/>
<line x1="163.31" y1="981.42" x2="168.31" y2="981.42" stroke="#333" stroke-width="1"/>
<line x1="211.49" y1="975.25" x2="211.49" y2="985.53" stroke="#333" stroke-width="1"/>
<line x1="208.99" y1="975.25" x2="213.99" y2="975.25" stroke="#333" stroke-width="1"/>
<line x1="208.99" y1="985.53" x2="213.99" y2="985.53" stroke="#333" stroke-width="1"/>
<line x1="257.17" y1="971.96" x2="257.17" y2="986.76" stroke="#333" stroke-width="1"/>
<line x1="254.67" y1="971.96" x2="259.67" y2="971.96" stroke="#333" stroke-width="1"/>
<line x1="254.67" y1="986.76" x2="259.67" y2="986.76" stroke="#333" stroke-width="1"/>
<line x1="348.53" y1="974.02" x2="348.53" y2="983.06" stroke="#333" stroke-width="1"/>
<line x1="346.03" y1="974.02" x2="351.03" y2="974.02" stroke="#333" stroke-width="1"/>
<line x1="346.03" y1="983.06" x2="351.03" y2="983.06" stroke="#333" stroke-width="1"/>
<line x1="74.45" y1="973.61" x2="74.45" y2="986.76" stroke="#333" stroke-width="1"/>
<line x1="71.95" y1="973.61" x2="76.95" y2="973.61" stroke="#333" stroke-width="1"/>
<line x1="71.95" y1="986.76" x2="76.95" y2="986.76" stroke="#333" stroke-width="1"/>
<line x1="120.13" y1="903.74" x2="120.13" y2="921" stroke="#333" stroke-width="1"/>
<line x1="117.63" y1="903.74" x2="122.63" y2="903.74" stroke="#333" stroke-width="1"/>
<line x1="117.63" y1="921" x2="122.63" y2="921" stroke="#333" stroke-width="1"/>
<line x1="165.81" y1="975.46" x2="165.81" y2="980.39" stroke="#333" stroke-width="1"/>
<line x1="163.31" y1="975.46" x2="168.31" y2="975.46" stroke="#333" stroke-width="1"/>
<line x1="163.31" y1="980.39" x2="168.31" y2="980.39" stroke="#333" stroke-width="1"/>
<line x1="211.49" y1="876" x2="211.49" y2="887.09" stroke="#333" stroke-width="1"/>
<line x1="208.99" y1="876" x2="213.99" y2="876" stroke="#333" stroke-width="1"/>
<line x1="208.99" y1="887.09" x2="213.99" y2="887.09" stroke="#333" stroke-width="1"/>
<line x1="257.17" y1="926.96" x2="257.17" y2="945.87" stroke="#333" stroke-width="1"/>
<line x1="254.67" y1="926.96" x2="259.67" y2="926.96" stroke="#333" stroke-width="1"/>
<line x1="254.67" y1="945.87" x2="259.67" y2="945.87" stroke="#333" stroke-width="1"/>
<line x1="348.53" y1="953.47" x2="348.53" y2="961.69" stroke="#333" stroke-width="1"/>
<line x1="346.03" y1="953.47" x2="351.03" y2="953.47" stroke="#333" stroke-width="1"/>
<line x1="346.03" y1="961.69" x2="351.03" y2="961.69" stroke="#333" stroke-width="1"/>
<rect x="70.7" y="977.88" width="7.5" height="7.9" fill="#3c3c3c"/>
<rect x="116.38" y="977.06" width="7.5" height="7.9" fill="#3c3c3c"/>
<rect x="162.06" y="975" width="7.5" height="7.9" fill="#3c3c3c"/>
<rect x="207.74" y="976.44" width="7.5" height="7.9" fill="#3c3c3c"/>
<rect x="253.42" y="975.41" width="7.5" height="7.9" fill="#3c3c3c"/>
<rect x="344.78" y="974.59" width="7.5" height="7.9" fill="#3c3c3c"/>
<circle cx="74.45" cy="980.18" r="3.95" fill="#3c3c3c"/>
<circle cx="120.13" cy="912.37" r="3.95" fill="#3c3c3c"/>
<circle cx="165.81" cy="977.92" r="3.95" fill="#3c3c3c"/>
<circle cx="211.49" cy="881.54" r="3.95" fill="#3c3c3c"/>
<circle cx="257.17" cy="936.41" r="3.95" fill="#3c3c3c"/>
<circle cx="348.53" cy="957.58" r="3.95" fill="#3c3c3c"/>
</g>
<line x1="411.1" y1="25.3" x2="411.1" y2="263.4" stroke="#111" stroke-width="1.5"/>
<line x1="411.1" y1="263.4" x2="416" y2="263.4" stroke="#111" stroke-width="1.3"/>
<text x="405.4" y="266.1" font-size="10" font-weight="bold" text-anchor="end" class="tl">0</text>
<line x1="411.1" y1="223.82" x2="416" y2="223.82" stroke="#111" stroke-width="1.3"/>
<text x="405.4" y="226.52" font-size="10" font-weight="bold" text-anchor="end" class="tl">100</text>
<line x1="411.1" y1="184.23" x2="416" y2="184.23" stroke="#111" stroke-width="1.3"/>
<text x="405.4" y="186.93" font-size="10" font-weight="bold" text-anchor="end" class="tl">200</text>
<line x1="411.1" y1="144.65" x2="416" y2="144.65" stroke="#111" stroke-width="1.3"/>
<text x="405.4" y="147.35" font-size="10" font-weight="bold" text-anchor="end" class="tl">300</text>
<line x1="411.1" y1="105.07" x2="416" y2="105.07" stroke="#111" stroke-width="1.3"/>
<text x="405.4" y="107.77" font-size="10" font-weight="bold" text-anchor="end" class="tl">400</text>
<line x1="411.1" y1="65.48" x2="416" y2="65.48" stroke="#111" stroke-width="1.3"/>
<text x="405.4" y="68.18" font-size="10" font-weight="bold" text-anchor="end" class="tl">500</text>
<line x1="411.1" y1="25.9" x2="416" y2="25.9" stroke="#111" stroke-width="1.3"/>
<text x="405.4" y="28.6" font-size="10" font-weight="bold" text-anchor="end" class="tl">600</text>
<line x1="410.35" y1="263.4" x2="728.2" y2="263.4" stroke="#111" stroke-width="1.5"/>
<line x1="450.7" y1="151.3" x2="450.7" y2="154.4" stroke="#111" stroke-width="1.1"/>
<line x1="448.2" y1="151.3" x2="453.2" y2="151.3" stroke="#111" stroke-width="1.1"/>
<rect x="434.8" y="154.4" width="31.8" height="109" fill="#808080" stroke="#111" stroke-width="1.1"/>
<line x1="530.5" y1="54.4" x2="530.5" y2="55.8" stroke="#111" stroke-width="1.1"/>
<line x1="528" y1="54.4" x2="533" y2="54.4" stroke="#111" stroke-width="1.1"/>
<rect x="514.6" y="55.8" width="31.8" height="207.6" fill="#808080" stroke="#111" stroke-width="1.1"/>
<text x="526.9" y="52.3" font-size="10" font-weight="bold" text-anchor="middle">*</text>
<text x="534.1" y="52.3" font-size="10" font-weight="bold" text-anchor="middle">*</text>
<line x1="610.2" y1="90.6" x2="610.2" y2="95.7" stroke="#111" stroke-width="1.1"/>
<line x1="607.7" y1="90.6" x2="612.7" y2="90.6" stroke="#111" stroke-width="1.1"/>
<rect x="594.3" y="95.7" width="31.8" height="167.7" fill="#808080" stroke="#111" stroke-width="1.1"/>
<text x="606.6" y="90.7" font-size="10" font-weight="bold" text-anchor="middle">*</text>
<text x="613.8" y="90.7" font-size="10" font-weight="bold" text-anchor="middle">*</text>
<line x1="689.7" y1="112.6" x2="689.7" y2="115.4" stroke="#111" stroke-width="1.1"/>
<line x1="687.2" y1="112.6" x2="692.2" y2="112.6" stroke="#111" stroke-width="1.1"/>
<rect x="673.8" y="115.4" width="31.8" height="148" fill="#808080" stroke="#111" stroke-width="1.1"/>
<text x="686.1" y="112" font-size="10" font-weight="bold" text-anchor="middle">*</text>
<text x="693.3" y="112" font-size="10" font-weight="bold" text-anchor="middle">*</text>
<line x1="411.1" y1="296.2" x2="411.1" y2="534.1" stroke="#111" stroke-width="1.5"/>
<line x1="411.1" y1="534.1" x2="416" y2="534.1" stroke="#111" stroke-width="1.3"/>
<text x="405.4" y="537.65" font-size="10" font-weight="bold" text-anchor="end" class="tl">0</text>
<line x1="411.1" y1="500.2" x2="416" y2="500.2" stroke="#111" stroke-width="1.3"/>
<text x="405.4" y="503.75" font-size="10" font-weight="bold" text-anchor="end" class="tl">10</text>
<line x1="411.1" y1="466.3" x2="416" y2="466.3" stroke="#111" stroke-width="1.3"/>
<text x="405.4" y="469.85" font-size="10" font-weight="bold" text-anchor="end" class="tl">20</text>
<line x1="411.1" y1="432.4" x2="416" y2="432.4" stroke="#111" stroke-width="1.3"/>
<text x="405.4" y="435.95" font-size="10" font-weight="bold" text-anchor="end" class="tl">30</text>
<line x1="411.1" y1="398.5" x2="416" y2="398.5" stroke="#111" stroke-width="1.3"/>
<text x="405.4" y="402.05" font-size="10" font-weight="bold" text-anchor="end" class="tl">40</text>
<line x1="411.1" y1="364.6" x2="416" y2="364.6" stroke="#111" stroke-width="1.3"/>
<text x="405.4" y="368.15" font-size="10" font-weight="bold" text-anchor="end" class="tl">50</text>
<line x1="411.1" y1="330.7" x2="416" y2="330.7" stroke="#111" stroke-width="1.3"/>
<text x="405.4" y="334.25" font-size="10" font-weight="bold" text-anchor="end" class="tl">60</text>
<line x1="411.1" y1="296.8" x2="416" y2="296.8" stroke="#111" stroke-width="1.3"/>
<text x="405.4" y="300.35" font-size="10" font-weight="bold" text-anchor="end" class="tl">70</text>
<line x1="410.35" y1="534.1" x2="728.2" y2="534.1" stroke="#111" stroke-width="1.5"/>
<line x1="450.7" y1="450.5" x2="450.7" y2="457.1" stroke="#111" stroke-width="1.1"/>
<line x1="448.2" y1="450.5" x2="453.2" y2="450.5" stroke="#111" stroke-width="1.1"/>
<rect x="434.8" y="457.1" width="31.8" height="77" fill="#000" stroke="#111" stroke-width="1.1"/>
<line x1="530.5" y1="400.7" x2="530.5" y2="403.9" stroke="#111" stroke-width="1.1"/>
<line x1="528" y1="400.7" x2="533" y2="400.7" stroke="#111" stroke-width="1.1"/>
<rect x="514.6" y="403.9" width="31.8" height="130.2" fill="#000" stroke="#111" stroke-width="1.1"/>
<text x="526.9" y="399.5" font-size="10" font-weight="bold" text-anchor="middle">*</text>
<text x="534.1" y="399.5" font-size="10" font-weight="bold" text-anchor="middle">*</text>
<line x1="610.2" y1="367.5" x2="610.2" y2="372.7" stroke="#111" stroke-width="1.1"/>
<line x1="607.7" y1="367.5" x2="612.7" y2="367.5" stroke="#111" stroke-width="1.1"/>
<rect x="594.3" y="372.7" width="31.8" height="161.4" fill="#000" stroke="#111" stroke-width="1.1"/>
<text x="606.6" y="366.9" font-size="10" font-weight="bold" text-anchor="middle">*</text>
<text x="613.8" y="366.9" font-size="10" font-weight="bold" text-anchor="middle">*</text>
<line x1="689.7" y1="322.9" x2="689.7" y2="326.7" stroke="#111" stroke-width="1.1"/>
<line x1="687.2" y1="322.9" x2="692.2" y2="322.9" stroke="#111" stroke-width="1.1"/>
<rect x="673.8" y="326.7" width="31.8" height="207.4" fill="#000" stroke="#111" stroke-width="1.1"/>
<text x="686.1" y="320.7" font-size="10" font-weight="bold" text-anchor="middle">*</text>
<text x="693.3" y="320.7" font-size="10" font-weight="bold" text-anchor="middle">*</text>
<line x1="411.1" y1="568" x2="411.1" y2="805.8" stroke="#111" stroke-width="1.5"/>
<line x1="411.1" y1="805.8" x2="416" y2="805.8" stroke="#111" stroke-width="1.3"/>
<text x="405.4" y="809.35" font-size="10" font-weight="bold" text-anchor="end" class="tl">0</text>
<line x1="411.1" y1="766.27" x2="416" y2="766.27" stroke="#111" stroke-width="1.3"/>
<text x="405.4" y="769.82" font-size="10" font-weight="bold" text-anchor="end" class="tl">200</text>
<line x1="411.1" y1="726.73" x2="416" y2="726.73" stroke="#111" stroke-width="1.3"/>
<text x="405.4" y="730.28" font-size="10" font-weight="bold" text-anchor="end" class="tl">400</text>
<line x1="411.1" y1="687.2" x2="416" y2="687.2" stroke="#111" stroke-width="1.3"/>
<text x="405.4" y="690.75" font-size="10" font-weight="bold" text-anchor="end" class="tl">600</text>
<line x1="411.1" y1="647.67" x2="416" y2="647.67" stroke="#111" stroke-width="1.3"/>
<text x="405.4" y="651.22" font-size="10" font-weight="bold" text-anchor="end" class="tl">800</text>
<line x1="411.1" y1="608.13" x2="416" y2="608.13" stroke="#111" stroke-width="1.3"/>
<text x="405.4" y="611.68" font-size="10" font-weight="bold" text-anchor="end" class="tl">1000</text>
<line x1="411.1" y1="568.6" x2="416" y2="568.6" stroke="#111" stroke-width="1.3"/>
<text x="405.4" y="572.15" font-size="10" font-weight="bold" text-anchor="end" class="tl">1200</text>
<line x1="410.35" y1="805.8" x2="728.2" y2="805.8" stroke="#111" stroke-width="1.5"/>
<line x1="450.7" y1="750.6" x2="450.7" y2="753.6" stroke="#111" stroke-width="1.1"/>
<line x1="448.2" y1="750.6" x2="453.2" y2="750.6" stroke="#111" stroke-width="1.1"/>
<rect x="434.8" y="753.6" width="31.8" height="52.2" fill="#c2c2c2" stroke="#111" stroke-width="1.1"/>
<line x1="530.5" y1="689.3" x2="530.5" y2="696.4" stroke="#111" stroke-width="1.1"/>
<line x1="528" y1="689.3" x2="533" y2="689.3" stroke="#111" stroke-width="1.1"/>
<rect x="514.6" y="696.4" width="31.8" height="109.4" fill="#c2c2c2" stroke="#111" stroke-width="1.1"/>
<text x="526.9" y="687.9" font-size="10" font-weight="bold" text-anchor="middle">*</text>
<text x="534.1" y="687.9" font-size="10" font-weight="bold" text-anchor="middle">*</text>
<line x1="610.2" y1="714.1" x2="610.2" y2="716.2" stroke="#111" stroke-width="1.1"/>
<line x1="607.7" y1="714.1" x2="612.7" y2="714.1" stroke="#111" stroke-width="1.1"/>
<rect x="594.3" y="716.2" width="31.8" height="89.6" fill="#c2c2c2" stroke="#111" stroke-width="1.1"/>
<text x="606.6" y="713.1" font-size="10" font-weight="bold" text-anchor="middle">*</text>
<text x="613.8" y="713.1" font-size="10" font-weight="bold" text-anchor="middle">*</text>
<line x1="689.7" y1="588.4" x2="689.7" y2="593.4" stroke="#111" stroke-width="1.1"/>
<line x1="687.2" y1="588.4" x2="692.2" y2="588.4" stroke="#111" stroke-width="1.1"/>
<rect x="673.8" y="593.4" width="31.8" height="212.4" fill="#c2c2c2" stroke="#111" stroke-width="1.1"/>
<text x="686.1" y="587.7" font-size="10" font-weight="bold" text-anchor="middle">*</text>
<text x="693.3" y="587.7" font-size="10" font-weight="bold" text-anchor="middle">*</text>
<line x1="411.1" y1="840.7" x2="411.1" y2="1089.3" stroke="#111" stroke-width="1.5"/>
<line x1="411.1" y1="1089.3" x2="416" y2="1089.3" stroke="#111" stroke-width="1.3"/>
<text x="405.4" y="1092.85" font-size="10" font-weight="bold" text-anchor="end" class="tl">0</text>
<line x1="411.1" y1="1047.97" x2="416" y2="1047.97" stroke="#111" stroke-width="1.3"/>
<text x="405.4" y="1051.52" font-size="10" font-weight="bold" text-anchor="end" class="tl">200</text>
<line x1="411.1" y1="1006.63" x2="416" y2="1006.63" stroke="#111" stroke-width="1.3"/>
<text x="405.4" y="1010.18" font-size="10" font-weight="bold" text-anchor="end" class="tl">400</text>
<line x1="411.1" y1="965.3" x2="416" y2="965.3" stroke="#111" stroke-width="1.3"/>
<text x="405.4" y="968.85" font-size="10" font-weight="bold" text-anchor="end" class="tl">600</text>
<line x1="411.1" y1="923.97" x2="416" y2="923.97" stroke="#111" stroke-width="1.3"/>
<text x="405.4" y="927.52" font-size="10" font-weight="bold" text-anchor="end" class="tl">800</text>
<line x1="411.1" y1="882.63" x2="416" y2="882.63" stroke="#111" stroke-width="1.3"/>
<text x="405.4" y="886.18" font-size="10" font-weight="bold" text-anchor="end" class="tl">1000</text>
<line x1="411.1" y1="841.3" x2="416" y2="841.3" stroke="#111" stroke-width="1.3"/>
<text x="405.4" y="844.85" font-size="10" font-weight="bold" text-anchor="end" class="tl">1200</text>
<line x1="410.35" y1="1089.3" x2="729.8" y2="1089.3" stroke="#111" stroke-width="1.5"/>
<line x1="450.7" y1="977.4" x2="450.7" y2="984" stroke="#111" stroke-width="1.1"/>
<line x1="448.2" y1="977.4" x2="453.2" y2="977.4" stroke="#111" stroke-width="1.1"/>
<rect x="434.8" y="984" width="31.8" height="105.3" fill="#424242" stroke="#111" stroke-width="1.1"/>
<line x1="530.5" y1="918.8" x2="530.5" y2="923.2" stroke="#111" stroke-width="1.1"/>
<line x1="528" y1="918.8" x2="533" y2="918.8" stroke="#111" stroke-width="1.1"/>
<rect x="514.6" y="923.2" width="31.8" height="166.1" fill="#424242" stroke="#111" stroke-width="1.1"/>
<text x="526.9" y="917" font-size="10" font-weight="bold" text-anchor="middle">*</text>
<text x="534.1" y="917" font-size="10" font-weight="bold" text-anchor="middle">*</text>
<line x1="610.2" y1="879.4" x2="610.2" y2="884.9" stroke="#111" stroke-width="1.1"/>
<line x1="607.7" y1="879.4" x2="612.7" y2="879.4" stroke="#111" stroke-width="1.1"/>
<rect x="594.3" y="884.9" width="31.8" height="204.4" fill="#424242" stroke="#111" stroke-width="1.1"/>
<text x="606.6" y="876.9" font-size="10" font-weight="bold" text-anchor="middle">*</text>
<text x="613.8" y="876.9" font-size="10" font-weight="bold" text-anchor="middle">*</text>
<line x1="689.7" y1="957.4" x2="689.7" y2="963.3" stroke="#111" stroke-width="1.1"/>
<line x1="687.2" y1="957.4" x2="692.2" y2="957.4" stroke="#111" stroke-width="1.1"/>
<rect x="673.8" y="963.3" width="31.8" height="126" fill="#424242" stroke="#111" stroke-width="1.1"/>
<text x="686.1" y="956.1" font-size="10" font-weight="bold" text-anchor="middle">*</text>
<text x="693.3" y="956.1" font-size="10" font-weight="bold" text-anchor="middle">*</text>
<text x="450.7" y="1102.9" font-size="10" font-weight="bold" text-anchor="middle" class="tl">Control</text>
<text x="530.5" y="1102.9" font-size="10" font-weight="bold" text-anchor="middle" class="tl">4<tspan font-size="7.5" dy="-2">&#176;</tspan><tspan dy="2">C</tspan></text>
<text x="610.2" y="1102.9" font-size="10" font-weight="bold" text-anchor="middle" class="tl">0<tspan font-size="7.5" dy="-2">&#176;</tspan><tspan dy="2">C</tspan></text>
<text x="689.7" y="1102.9" font-size="10" font-weight="bold" text-anchor="middle" class="tl">-4<tspan font-size="7.5" dy="-2">&#176;</tspan><tspan dy="2">C</tspan></text>
<text x="570.3" y="1123.4" font-size="12" font-weight="bold" font-style="italic" text-anchor="middle">Treatments</text>
</svg></body></html>
